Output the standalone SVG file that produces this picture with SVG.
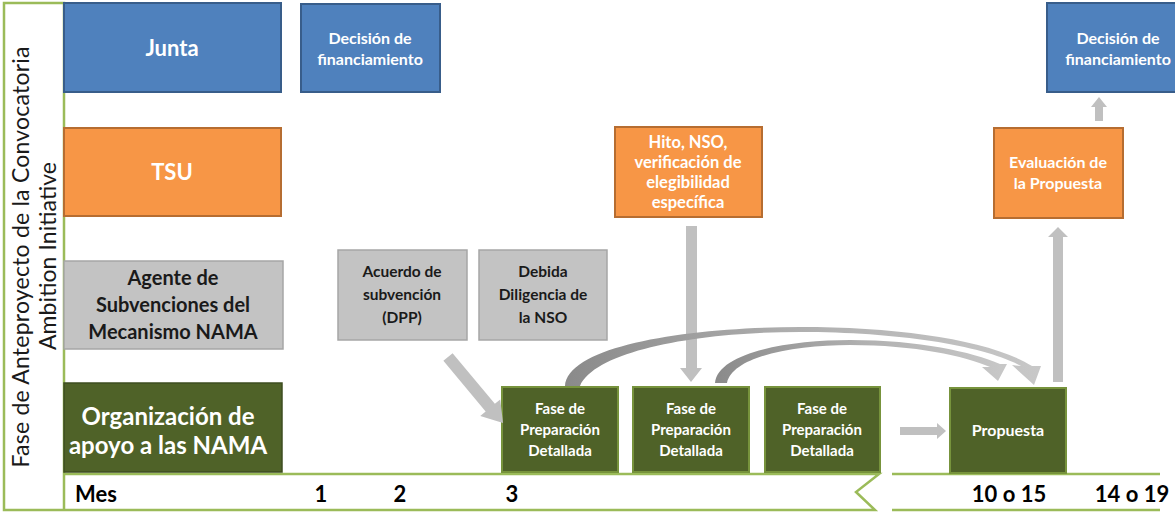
<svg xmlns="http://www.w3.org/2000/svg" width="1175" height="512" viewBox="0 0 1175 512">
<style>
text{font-family:Lato,"Liberation Sans",sans-serif;text-anchor:middle}
.w{fill:#fff;font-weight:bold}
.k{fill:#1a1a1a;font-weight:bold}
.blue{fill:#4F81BD;stroke:#385D8A;stroke-width:2}
.orange{fill:#F79646;stroke:#B66D31;stroke-width:2}
.gray{fill:#C3C3C3;stroke:#A6A6A6;stroke-width:1.5}
.dg{fill:#4F6228;stroke:#3E4E20;stroke-width:1.5}
.fg{fill:#4F6228;stroke:#77933C;stroke-width:2}
.gl{fill:none;stroke:#9BBB59;stroke-width:2.5}
.arr{fill:#C0C0C0}
.tl{font-size:22px;font-weight:bold;fill:#000}
</style>
<defs>
<linearGradient id="cg" x1="0" y1="0" x2="1" y2="0">
<stop offset="0" stop-color="#8A8A8A"/>
<stop offset="0.5" stop-color="#B0B0B0"/>
<stop offset="1" stop-color="#C8C8C8"/>
</linearGradient>
</defs>
<rect width="1175" height="512" fill="#fff"/>

<g id="frame">
<path class="gl" d="M64,474 L879,474 L856,492 L875,510 L4,510 L4,3 L64,3 L64,510"/>
<path class="gl" d="M892,474 L1160,474 M892,510 L1160,510"/>
<text x="0" y="0" transform="translate(29,257) rotate(-90)" font-size="23" fill="#1a1a1a" textLength="421">Fase de Anteproyecto de la Convocatoria</text>
<text x="0" y="0" transform="translate(56,256) rotate(-90)" font-size="23" fill="#1a1a1a" textLength="188">Ambition Initiative</text>
</g>

<g id="timeline">
<text class="tl" x="75" y="502" style="text-anchor:start">Mes</text>
<text class="tl" x="321" y="502">1</text>
<text class="tl" x="400" y="502">2</text>
<text class="tl" x="512" y="502">3</text>
<text class="tl" x="1009" y="502">10 o 15</text>
<text class="tl" x="1132" y="502">14 o 19</text>
</g>

<g id="junta">
<rect class="blue" x="64" y="3" width="217" height="89"/>
<text class="w" x="172" y="56" font-size="22">Junta</text>
</g>
<g id="tsu">
<rect class="orange" x="64" y="128" width="217" height="88"/>
<text class="w" x="172" y="180" font-size="22">TSU</text>
</g>
<g id="agente">
<rect class="gray" x="64" y="261" width="219" height="88"/>
<text class="k" font-size="20"><tspan x="173" y="285">Agente de</tspan><tspan x="173" y="312">Subvenciones del</tspan><tspan x="173" y="339">Mecanismo NAMA</tspan></text>
</g>
<g id="organizacion">
<rect class="dg" x="64" y="383" width="218" height="89"/>
<text class="w" font-size="24"><tspan x="168" y="425">Organización de</tspan><tspan x="168" y="454">apoyo a las NAMA</tspan></text>
</g>

<g id="decision1">
<rect class="blue" x="301" y="4" width="139" height="88"/>
<text class="w" font-size="16"><tspan x="370" y="44">Decisión de</tspan><tspan x="370" y="65">financiamiento</tspan></text>
</g>
<g id="hito">
<rect class="orange" x="615" y="127" width="147" height="90"/>
<text class="w" font-size="16.5"><tspan x="688" y="148">Hito, NSO,</tspan><tspan x="688" y="168">verificación de</tspan><tspan x="688" y="188">elegibilidad</tspan><tspan x="688" y="208">específica</tspan></text>
</g>
<g id="acuerdo">
<rect class="gray" x="338" y="250" width="129" height="90"/>
<text class="k" font-size="15.5"><tspan x="402" y="277">Acuerdo de</tspan><tspan x="402" y="300">subvención</tspan><tspan x="402" y="323">(DPP)</tspan></text>
</g>
<g id="debida">
<rect class="gray" x="479" y="250" width="128" height="90"/>
<text class="k" font-size="15.5"><tspan x="543" y="277">Debida</tspan><tspan x="543" y="300">Diligencia de</tspan><tspan x="543" y="323">la NSO</tspan></text>
</g>
<g id="fase1">
<rect class="fg" x="502" y="387" width="116" height="85"/>
<text class="w" font-size="15"><tspan x="560" y="414">Fase de</tspan><tspan x="560" y="435">Preparación</tspan><tspan x="560" y="456">Detallada</tspan></text>
</g>
<g id="fase2">
<rect class="fg" x="633" y="387" width="116" height="85"/>
<text class="w" font-size="15"><tspan x="691" y="414">Fase de</tspan><tspan x="691" y="435">Preparación</tspan><tspan x="691" y="456">Detallada</tspan></text>
</g>
<g id="fase3">
<rect class="fg" x="765" y="387" width="115" height="85"/>
<text class="w" font-size="15"><tspan x="822" y="414">Fase de</tspan><tspan x="822" y="435">Preparación</tspan><tspan x="822" y="456">Detallada</tspan></text>
</g>
<g id="propuesta">
<rect class="fg" x="950" y="388" width="116" height="85"/>
<text class="w" x="1008" y="436" font-size="16">Propuesta</text>
</g>
<g id="evaluacion">
<rect class="orange" x="994" y="128" width="129" height="90"/>
<text class="w" font-size="16"><tspan x="1058" y="168">Evaluación de</tspan><tspan x="1058" y="189">la Propuesta</tspan></text>
</g>
<g id="decision2">
<rect class="blue" x="1047" y="3" width="140" height="89"/>
<text class="w" font-size="16"><tspan x="1118" y="44">Decisión de</tspan><tspan x="1118" y="65">financiamiento</tspan></text>
</g>

<g id="connectors">
<polygon class="arr" points="0,-6 66,-6 66,-13 86,0 66,13 66,6 0,6" transform="translate(448,357) rotate(50.2)"/>
<polygon class="arr" points="686,226 697,226 697,368 702,368 691,382 680,368 686,368"/>
<polygon class="arr" points="900,427 937,427 937,423 946,431 937,439 937,435 900,435"/>
<polygon class="arr" points="1053,382 1063,382 1063,237 1068,237 1058,227 1048,237 1053,237"/>
<polygon class="arr" points="1095,121 1103,121 1103,107 1107,107 1099,97 1091,107 1095,107"/>
<path fill="url(#cg)" d="M565,386 C568,345 690,327 800,327 C900,327 990,340 1032,366 L1041,366 L1034,385 L1012,365 L1021,366 C985,346 900,332 800,332 C700,332 596,350 580,386 Z"/>
<path fill="url(#cg)" d="M715,383 C718,352 790,340 850,340 C920,340 972,352 1000,364 L1007,364 L998,381 L982,367 L990,367 C965,356 915,345 850,345 C795,345 733,356 727,383 Z"/>
</g>
</svg>
